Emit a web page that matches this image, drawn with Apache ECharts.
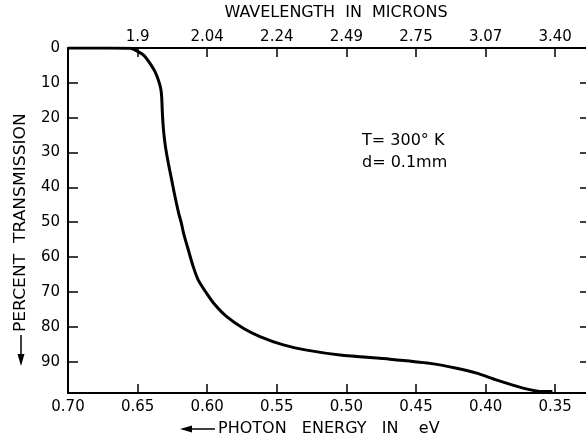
<!DOCTYPE html>
<html>
<head>
<meta charset="utf-8">
<script src="https://cdn.jsdelivr.net/npm/echarts@6/dist/echarts.min.js"></script>
<style>
html,body{margin:0;padding:0;background:#fff;overflow:hidden;}
#chart{width:600px;height:440px;}
</style>
</head>
<body>
<div id="chart"></div>
<script>
// Photon energy (eV) along the curve
var energy = [0.70, 0.67, 0.655, 0.6519, 0.6459, 0.6411, 0.6375, 0.6351, 0.6334, 0.6327, 0.6322, 0.6314, 0.6300, 0.6279, 0.6255, 0.6231, 0.6205, 0.6186, 0.6170, 0.6136, 0.6100, 0.6064, 0.6004, 0.5944, 0.5860, 0.5741, 0.5621, 0.5453, 0.5285, 0.5046, 0.4687, 0.4399, 0.4208, 0.4064, 0.3920, 0.3731, 0.3588, 0.352];
// Percent transmission scale value (plotted downward)
var transmission = [0, 0, 0.1, 0.57, 2.0, 4.4, 6.8, 9.2, 11.6, 14.0, 18.7, 23.5, 28.3, 33.1, 37.9, 42.7, 47.4, 50.2, 53.1, 57.9, 62.8, 66.6, 70.4, 73.7, 77.1, 80.4, 82.8, 85.2, 86.7, 88.1, 89.3, 90.5, 91.9, 93.3, 95.3, 97.6, 98.6, 98.6];
// Bottom axis ticks (eV)
var energyTicks = [0.70, 0.65, 0.60, 0.55, 0.50, 0.45, 0.40, 0.35];
// Top axis ticks (positions in eV) and wavelength labels (microns)
var wavelengthTickPos = [0.65, 0.60, 0.55, 0.50, 0.45, 0.40, 0.35];
var wavelengthLabels = ['1.9', '2.04', '2.24', '2.49', '2.75', '3.07', '3.40'];
// Left axis ticks
var transTicks = [0, 10, 20, 30, 40, 50, 60, 70, 80, 90];

var FONT = 'DejaVu Sans';
var chart = echarts.init(document.getElementById('chart'), null, {renderer: 'canvas'});
var data = energy.map(function (e, i) { return [e, transmission[i]]; });
var axisLine = {show: true, onZero: false, lineStyle: {color: '#000', width: 2}};
var tickStyle = {color: '#000', width: 1.5};
function inList(list, v) { for (var i = 0; i < list.length; i++) { if (Math.abs(list[i] - v) < 1e-6) return i; } return -1; }

chart.setOption({
  animation: false,
  backgroundColor: '#fff',
  grid: {left: 68, top: 48, width: 522, height: 345, containLabel: false},
  xAxis: [
    {
      type: 'value', position: 'bottom', inverse: true, min: 0.325, max: 0.70,
      axisLine: axisLine,
      axisTick: {show: true, inside: true, length: 9, lineStyle: tickStyle, customValues: energyTicks},
      axisLabel: {show: true, customValues: energyTicks, margin: 7, color: '#000', fontFamily: FONT, fontSize: 15,
        formatter: function (v) { return inList(energyTicks, v) >= 0 ? v.toFixed(2) : ''; }},
      splitLine: {show: false}
    },
    {
      type: 'value', position: 'top', inverse: true, min: 0.325, max: 0.70,
      axisLine: axisLine,
      axisTick: {show: true, inside: true, length: 9, lineStyle: tickStyle, customValues: wavelengthTickPos},
      axisLabel: {show: true, customValues: wavelengthTickPos, margin: 3, color: '#000', fontFamily: FONT, fontSize: 15,
        formatter: function (v) { var i = inList(wavelengthTickPos, v); return i >= 0 ? wavelengthLabels[i] : ''; }},
      splitLine: {show: false}
    }
  ],
  yAxis: [
    {
      type: 'value', position: 'left', inverse: true, min: 0, max: 99,
      axisLine: axisLine,
      axisTick: {show: true, inside: true, length: 10, lineStyle: tickStyle, customValues: transTicks},
      axisLabel: {show: true, customValues: transTicks, margin: 8, color: '#000', fontFamily: FONT, fontSize: 15},
      splitLine: {show: false}
    },
    {
      type: 'value', position: 'right', inverse: true, min: 0, max: 99,
      axisLine: axisLine,
      axisTick: {show: true, inside: true, length: 10, lineStyle: tickStyle, customValues: transTicks},
      axisLabel: {show: false},
      splitLine: {show: false}
    }
  ],
  series: [{
    type: 'line', xAxisIndex: 0, yAxisIndex: 0, data: data,
    showSymbol: false, smooth: 0.25,
    lineStyle: {color: '#000', width: 3}
  }],
  graphic: [
    {type: 'text', x: 336, y: 12.5, style: {text: 'WAVELENGTH  IN  MICRONS', fill: '#000', align: 'center', verticalAlign: 'middle', font: '16px "' + FONT + '"'}},
    {type: 'text', x: 218, y: 429, style: {text: 'PHOTON   ENERGY   IN    eV', fill: '#000', align: 'left', verticalAlign: 'middle', font: '16px "' + FONT + '"'}},
    {type: 'line', shape: {x1: 190, y1: 429, x2: 215, y2: 429}, style: {stroke: '#000', lineWidth: 1.5}},
    {type: 'polygon', shape: {points: [[180, 429], [192, 425.5], [192, 432.5]]}, style: {fill: '#000'}},
    {type: 'text', x: 21, y: 332, rotation: Math.PI / 2, scaleX: 1.14, style: {text: 'PERCENT  TRANSMISSION', fill: '#000', align: 'left', verticalAlign: 'middle', font: '15px "' + FONT + '"'}},
    {type: 'line', shape: {x1: 21, y1: 335, x2: 21, y2: 355}, style: {stroke: '#000', lineWidth: 1.5}},
    {type: 'polygon', shape: {points: [[21, 366], [17.5, 354], [24.5, 354]]}, style: {fill: '#000'}},
    {type: 'text', x: 362, y: 141, style: {text: 'T= 300° K', fill: '#000', align: 'left', verticalAlign: 'middle', font: '16px "' + FONT + '"'}},
    {type: 'text', x: 362, y: 163, style: {text: 'd= 0.1mm', fill: '#000', align: 'left', verticalAlign: 'middle', font: '16px "' + FONT + '"'}}
  ]
});
</script>
</body>
</html>
